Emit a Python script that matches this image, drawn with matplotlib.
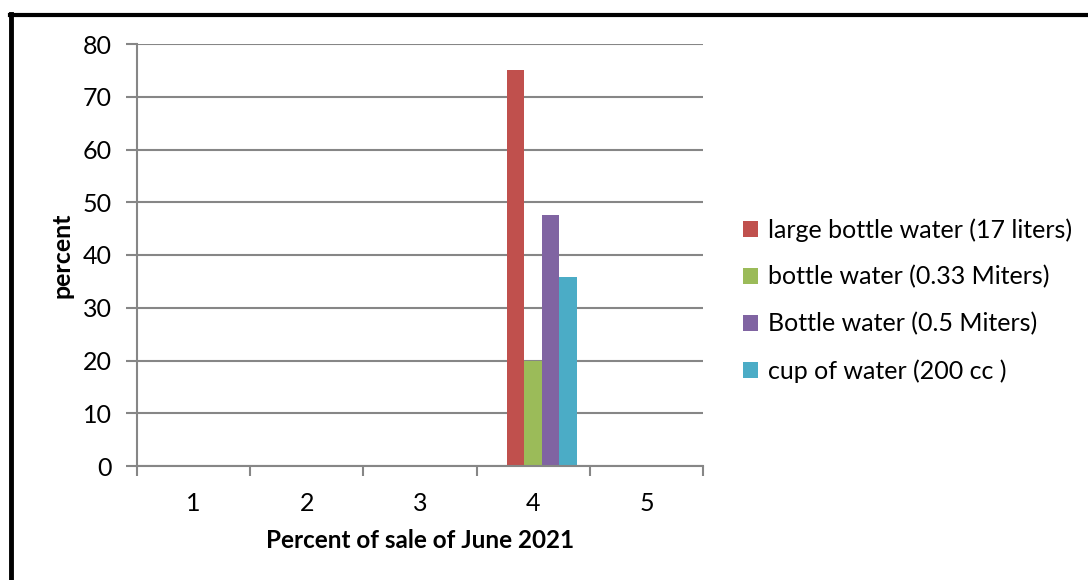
import matplotlib
matplotlib.use("Agg")
import matplotlib.pyplot as plt
from matplotlib.lines import Line2D
from matplotlib.patches import Patch
import numpy as np

plt.rcParams['font.family'] = ['Lato', 'DejaVu Sans']

categories = ["1", "2", "3", "4", "5"]
series_names = ["large bottle water (17 liters)", "bottle water (0.33 Miters)",
                "Bottle water (0.5 Miters)", "cup of water (200 cc )"]
series_values = [
    [0, 0, 0, 75, 0],
    [0, 0, 0, 20, 0],
    [0, 0, 0, 47.6, 0],
    [0, 0, 0, 35.8, 0],
]
colors = ["#C0504D", "#9BBB59", "#8064A2", "#4BACC6"]
y_ticks = [0, 10, 20, 30, 40, 50, 60, 70, 80]

W, H = 1088, 580
fig = plt.figure(figsize=(W / 100, H / 100), dpi=100)
ax = fig.add_axes([137 / W, 1 - 466 / H, (703 - 137) / W, (466 - 44) / H])

x = np.arange(1, len(categories) + 1)
nslots = 5
bw = 1 / 6.5
for i, (vals, c) in enumerate(zip(series_values, colors)):
    slot = i + 1
    off = (slot - (nslots - 1) / 2) * bw
    ax.bar(x + off, vals, width=bw, color=c, zorder=3, linewidth=0)

ax.set_xlim(0.5, 5.5)
ax.set_ylim(0, 80)
ax.set_yticks(y_ticks)
ax.set_yticklabels([str(v) for v in y_ticks], fontsize=18)
ax.set_xticks(np.arange(0.5, 5.6, 1))
ax.set_xticklabels([])
ax.set_xticks(x, minor=True)
ax.set_xticklabels(categories, minor=True, fontsize=18)
ax.tick_params(axis='x', which='minor', length=0, pad=19)
ax.tick_params(axis='x', which='major', length=7, width=1.5, color='#868686')
ax.tick_params(axis='y', length=8, width=1.5, color='#868686', pad=10)
ax.grid(axis='y', color='#868686', linewidth=1.5, zorder=0)
for s in ['top', 'right']:
    ax.spines[s].set_visible(False)
for s in ['left', 'bottom']:
    ax.spines[s].set_color('#868686')
    ax.spines[s].set_linewidth(1.5)
ax.spines['bottom'].set_zorder(4)

fig.text(62 / W, 1 - 255 / H, "percent", rotation=90, fontsize=18,
         fontweight='bold', ha='center', va='center')
fig.text(420 / W, 1 - 541 / H, "Percent of sale of June 2021", fontsize=17.5,
         fontweight='bold', ha='center', va='center')

handles = [Patch(facecolor=c, edgecolor='none') for c in colors]
leg = fig.legend(handles, series_names, loc='upper left',
                 bbox_to_anchor=(733 / W, 1 - 208 / H), frameon=False,
                 fontsize=18, handlelength=0.6, handleheight=0.6,
                 handletextpad=0.4, labelspacing=0.95, borderaxespad=0)

fig.add_artist(Line2D([10 / W, 1], [1 - 15 / H, 1 - 15 / H], color='black',
                      linewidth=3, transform=fig.transFigure))
fig.add_artist(Line2D([11 / W, 11 / W], [0, 1 - 14 / H], color='black',
                      linewidth=3.5, transform=fig.transFigure))

fig.savefig("out.png", dpi=100)
